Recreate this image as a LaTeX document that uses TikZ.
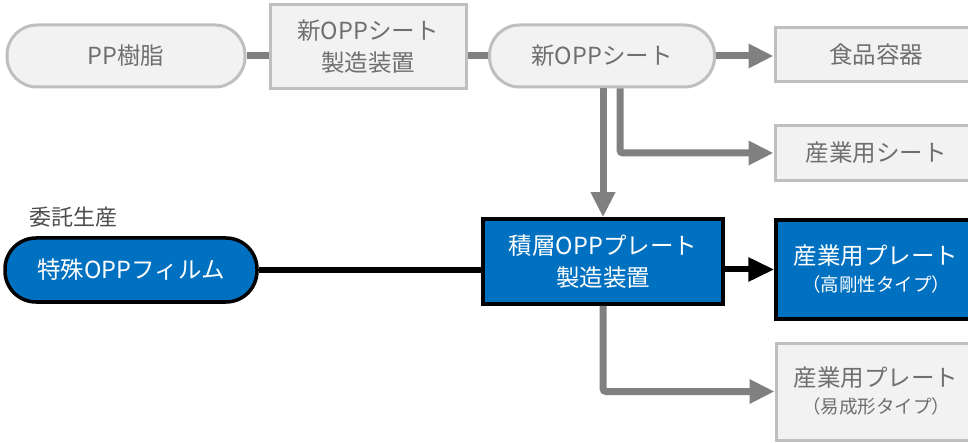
\documentclass[tikz,border=0pt]{standalone}
\usepackage{fontspec}
\setmainfont{Noto Sans CJK JP}
\usetikzlibrary{arrows.meta}
\definecolor{boxgray}{HTML}{F2F2F2}
\definecolor{edgegray}{HTML}{BFBFBF}
\definecolor{textgray}{HTML}{6F6F6F}
\definecolor{linegray}{HTML}{808080}
\definecolor{plateblue}{HTML}{0070C0}

\begin{document}
\begin{tikzpicture}[x=1pt,y=-1pt,
    graybox/.style={draw=edgegray,line width=3pt,fill=boxgray,text=textgray,
      font=\fontsize{23.5}{32}\selectfont,align=center,inner sep=0pt},
    grayround/.style={graybox,rounded corners=30pt},
    bluebox/.style={draw=black,line width=3.5pt,fill=plateblue,text=white,
      font=\fontsize{23.5}{32}\selectfont,align=center,inner sep=0pt},
    blueround/.style={bluebox,rounded corners=31pt},
    grayline/.style={linegray,line width=7pt},
    grayarrow/.style={grayline,-{Triangle[length=25pt,width=23pt]}},
    blackline/.style={black,line width=6pt},
    blackarrow/.style={blackline,-{Triangle[length=26pt,width=23pt]}}]
    \useasboundingbox (0,0) rectangle (968,443);
    \clip (0,0) rectangle (968,443);

    % upper row
    \node[grayround,minimum width=238pt,minimum height=62pt] (resin) at (126,56) {PP樹脂};
    \node[graybox,minimum width=196pt,minimum height=84pt] (sheetmc) at (368,47) {新OPPシート\\製造装置};
    \node[grayround,minimum width=225pt,minimum height=62pt] (sheet) at (602,56) {新OPPシート};
    \node[graybox,minimum width=202pt,minimum height=54pt] (food) at (876,55) {食品容器};
    \node[graybox,minimum width=202pt,minimum height=55pt] (indsheet) at (876,153) {産業用シート};

    % lower rows
    \node[text=black!70,font=\fontsize{22}{26}\selectfont] (consign) at (73,217) {委託生産};
    \node[blueround,minimum width=252pt,minimum height=64pt] (film) at (131,270) {特殊OPPフィルム};
    \node[bluebox,minimum width=240pt,minimum height=85pt] (platemc) at (603,261.5) {積層OPPプレート\\製造装置};
    \node[bluebox,minimum width=200pt,minimum height=99pt] (hard) at (876,269.5)
        {産業用プレート\\[-5pt]{\fontsize{18.5}{22}\selectfont（高剛性タイプ）}};
    \node[graybox,minimum width=200pt,minimum height=97pt] (easy) at (876,391.5)
        {産業用プレート\\[-5pt]{\fontsize{18.5}{22}\selectfont（易成形タイプ）}};

    % connectors
    \draw[grayline] (resin) -- (sheetmc.west |- resin.east);
    \draw[grayline] (sheetmc.east |- sheet.west) -- (sheet);
    \draw[grayarrow] (sheet.east) -- (food.west |- sheet.east);
    \draw[grayarrow,rounded corners=3pt] ([xshift=18pt]sheet.south) |- (indsheet.west);
    \draw[grayarrow] (sheet.south -| platemc.north) -- (platemc.north);
    \draw[blackline] (film.east) -- (film.east -| platemc.west);
    \draw[blackarrow] (platemc.east |- hard.west) -- (hard.west);
    \draw[grayarrow,rounded corners=3pt] (platemc.south) |- (easy.west);
\end{tikzpicture}
\end{document}
